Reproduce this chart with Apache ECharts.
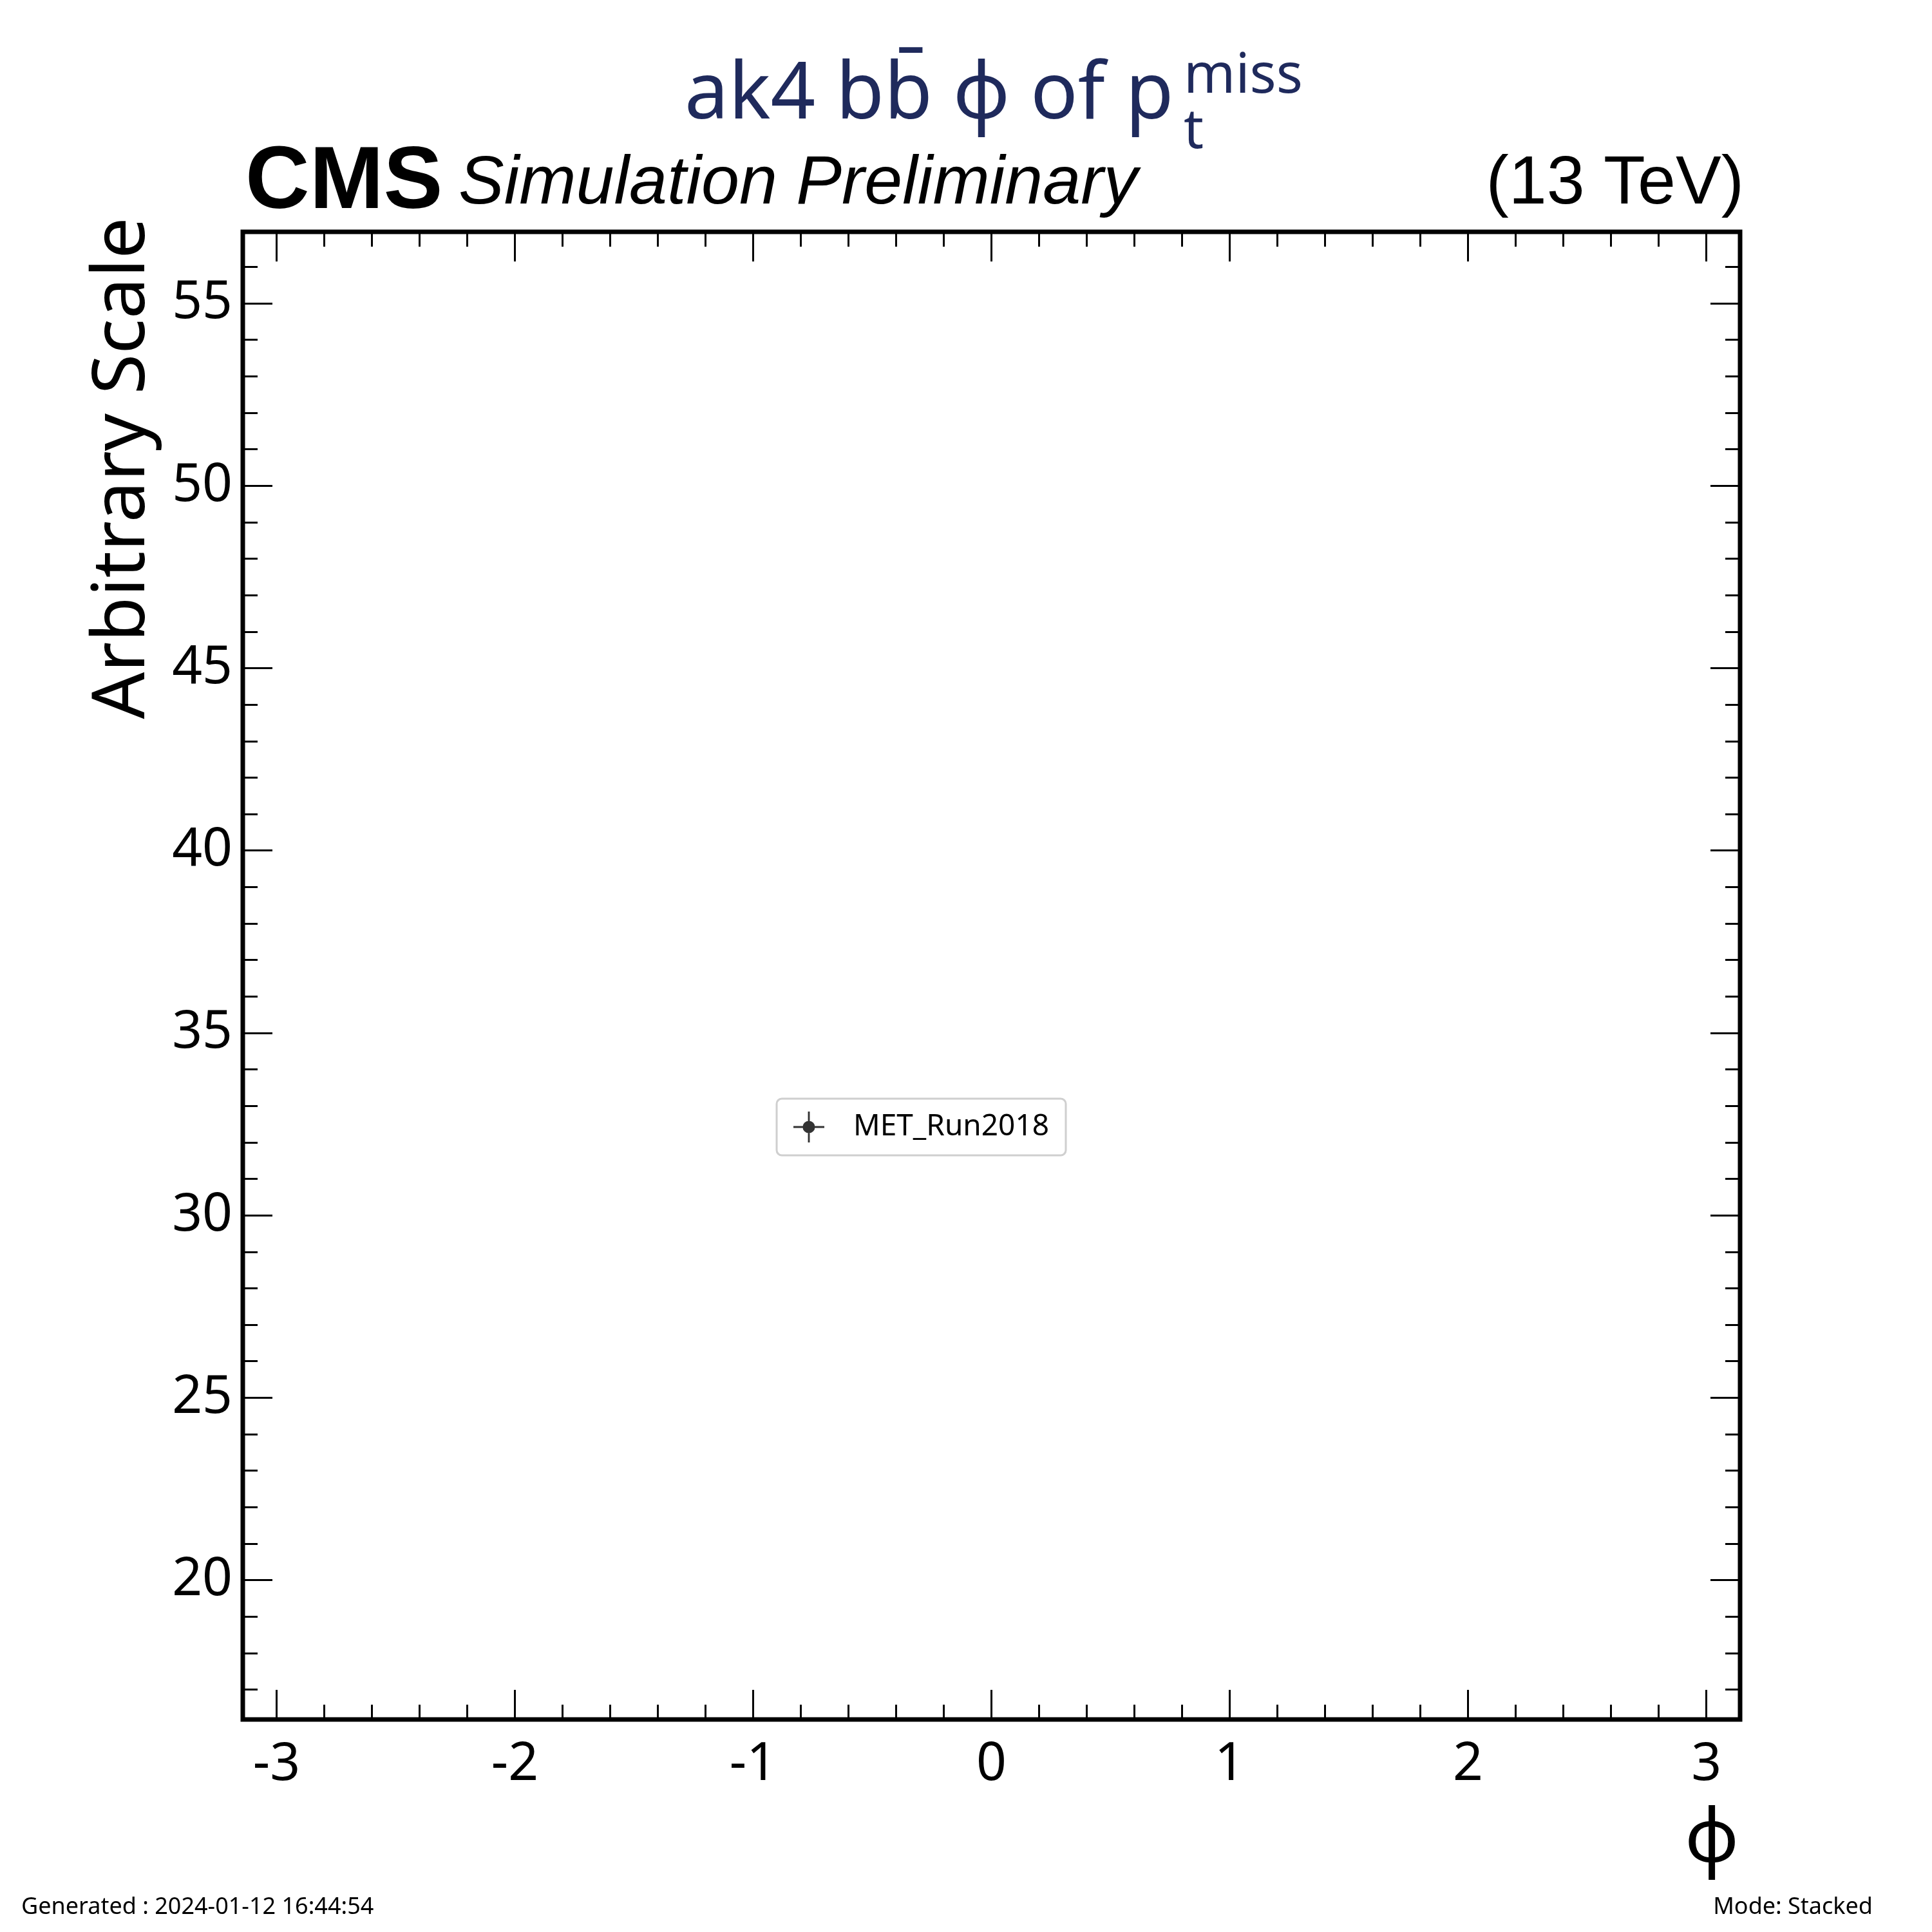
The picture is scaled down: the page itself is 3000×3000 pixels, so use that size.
<!DOCTYPE html>
<html>
<head>
<meta charset="utf-8">
<script src="https://cdn.jsdelivr.net/npm/echarts@6/dist/echarts.min.js"></script>
<style>html,body{margin:0;padding:0;background:#fff}#chart{width:3000px;height:3000px}</style>
</head>
<body>
<div id="chart"></div>
<script>
// axis ranges and tick values
const xRange = [-Math.PI, Math.PI];
const yRange = [16.18, 56.96];
const xMajor = [-3, -2, -1, 0, 1, 2, 3];
const xMinor = [];
for (let i = -15; i <= 15; i++) if (i % 5 !== 0) xMinor.push(i / 5);
const yMajor = [20, 25, 30, 35, 40, 45, 50, 55];
const yMinor = [];
for (let v = 17; v <= 56; v++) if (v % 5 !== 0) yMinor.push(v);
// the series (no points fall in the visible range)
const seriesName = "MET_Run2018";
const seriesData = [];

const FONT = "Noto Sans";
const chart = echarts.init(document.getElementById("chart"));

function xAx(pos, ticks, len, labels) {
    return {
        type: "value", position: pos, offset: 0,
        min: xRange[0], max: xRange[1],
        axisLine: { show: false, onZero: false },
        axisTick: { show: true, inside: true, length: len, customValues: ticks, lineStyle: { color: "#000", width: 3 } },
        axisLabel: labels ? { show: true, customValues: ticks, margin: 30, fontSize: 82, fontFamily: FONT, color: "#000" } : { show: false },
        splitLine: { show: false }
    };
}
function yAx(pos, ticks, len, labels) {
    return {
        type: "value", position: pos, offset: 0,
        min: yRange[0], max: yRange[1],
        axisLine: { show: false, onZero: false },
        axisTick: { show: true, inside: true, length: len, customValues: ticks, lineStyle: { color: "#000", width: 3 } },
        axisLabel: labels ? { show: true, customValues: ticks, margin: 16, fontSize: 82, fontFamily: FONT, color: "#000" } : { show: false },
        splitLine: { show: false }
    };
}

const option = {
    backgroundColor: "#fff",
    animation: false,
    grid: { left: 377, right: 298, top: 360, bottom: 330, show: true, borderColor: "#000", borderWidth: 7, backgroundColor: "transparent" },
    xAxis: [
        xAx("bottom", xMajor, 46, true),
        xAx("bottom", xMinor, 23, false),
        xAx("top", xMajor, 46, false),
        xAx("top", xMinor, 23, false)
    ],
    yAxis: [
        yAx("left", yMajor, 46, true),
        yAx("left", yMinor, 23, false),
        yAx("right", yMajor, 46, false),
        yAx("right", yMinor, 23, false)
    ],
    legend: {
        left: 1206, top: 1706,
        data: [{ name: seriesName, icon: "path://M0,4.7H10V5.3H0Z M4.7,0H5.3V10H4.7Z M5,3A2,2 0 1 1 4.99,3Z" }],
        itemWidth: 48, itemHeight: 54, itemGap: 20,
        padding: [20, 26, 20, 26],
        backgroundColor: "#fff", borderColor: "#cfcfcf", borderWidth: 3, borderRadius: 8,
        textStyle: { fontSize: 46, fontFamily: FONT, color: "#000", padding: [0, 0, 0, 40] }
    },
    series: [{ name: seriesName, type: "scatter", data: seriesData, itemStyle: { color: "#000" } }],
    graphic: [
        { type: "text", left: 1063, top: 88, style: { text: "ak4 bb\u0304 \u03d5 of p", font: "122px 'Noto Sans'", fill: "#1f2a5c" } },
        { type: "text", left: 1838, top: 76, style: { text: "miss", font: "86px 'Noto Sans'", fill: "#1f2a5c" } },
        { type: "text", left: 1838, top: 162, style: { text: "t", font: "86px 'Noto Sans'", fill: "#1f2a5c" } },
        { type: "text", left: 381, top: 216, style: { text: "CMS", font: "bold 138px 'Liberation Sans'", fill: "#000" } },
        { type: "text", left: 712, top: 234, style: { text: "Simulation Preliminary", font: "italic 106px 'Liberation Sans'", fill: "#000" } },
        { type: "text", right: 292, top: 234, style: { text: "(13 TeV)", font: "106px 'Liberation Sans'", fill: "#000" } },
        { type: "text", x: 192, y: 727, rotation: Math.PI / 2, style: { text: "Arbitrary Scale", font: "114px 'Noto Sans'", fill: "#000", align: "center", verticalAlign: "middle" } },
        { type: "text", right: 300, top: 2800, style: { text: "\u03d5", font: "116px 'Noto Sans'", fill: "#000" } },
        { type: "text", left: 33, top: 2944, style: { text: "Generated : 2024-01-12 16:44:54", font: "36px 'Noto Sans'", fill: "#000" } },
        { type: "text", right: 92, top: 2944, style: { text: "Mode: Stacked", font: "36px 'Noto Sans'", fill: "#000" } }
    ]
};
chart.setOption(option);
</script>
</body>
</html>
